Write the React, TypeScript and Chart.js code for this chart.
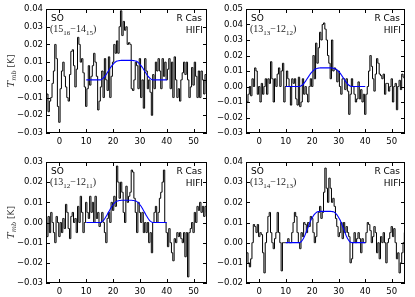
import React, { useEffect, useRef } from "react";
import { Chart, registerables } from "chart.js";

Chart.register(...registerables);
Chart.defaults.font.family = "'DejaVu Sans', sans-serif";

// ---------- data ----------
const CHANNEL_START = -5.5; // km/s, first channel centre
const CHANNEL_WIDTH = 0.5; // km/s

const velocityTicks = [0, 10, 20, 30, 40, 50];
const fitVelocities = [
  10, 10.5, 11, 11.5, 12, 12.5, 13, 13.5, 14, 14.5, 15, 15.5, 16, 16.5, 17, 17.5, 18, 18.5, 19, 19.5,
  20, 20.5, 21, 21.5, 22, 22.5, 23, 23.5, 24, 24.5, 25, 25.5, 26, 26.5, 27, 27.5, 28, 28.5, 29, 29.5,
  30, 30.5, 31, 31.5, 32, 32.5, 33, 33.5, 34, 34.5, 35, 35.5, 36, 36.5, 37, 37.5, 38, 38.5, 39, 39.5, 40,
];

// SO (15_16-14_15)
const spec1516 = [
  -0.008, -0.012, -0.008, -0.018, -0.012, -0.010, -0.002, 0.005, 0.020, 0.012,
  -0.015, -0.024, -0.005, 0.005, 0.010, 0.002, -0.004, -0.010, -0.012, 0.003,
  0.016, 0.017, 0.008, -0.004, 0.006, 0.024, 0.020, 0.010, 0.012, 0.004,
  -0.004, -0.015, -0.005, 0.008, -0.003, 0.002, 0.008, 0.015, 0.010, 0.002,
  -0.017, -0.012, -0.004, 0.005, -0.010, 0.012, 0.000, -0.006, 0.013, -0.010,
  0.002, 0.010, 0.020, 0.015, 0.022, 0.015, 0.030, 0.039, 0.025, 0.033,
  0.028, 0.030, 0.020, 0.021, 0.020, -0.005, -0.006, 0.000, 0.010, 0.008,
  -0.005, 0.012, -0.010, 0.000, -0.016, 0.012, 0.005, -0.005, 0.000, -0.007,
  -0.020, 0.003, -0.005, 0.010, 0.005, 0.012, 0.005, -0.005, 0.012, 0.002,
  0.010, 0.000, 0.006, 0.012, -0.005, 0.010, -0.010, 0.013, 0.000, -0.010,
  -0.005, -0.012, 0.000, 0.004, 0.010, 0.003, 0.010, 0.000, -0.010, -0.004,
  0.007, -0.003, 0.010, 0.002, -0.010, 0.005, -0.010, 0.005, 0.000, -0.008,
  0.003, -0.002,
];
// SO (13_13-12_12)
const spec1313 = [
  -0.012, -0.015, -0.010, -0.005, 0.000, -0.006, 0.005, 0.000, 0.012, 0.010,
  -0.005, 0.000, -0.010, 0.002, -0.005, 0.000, 0.005, -0.005, 0.005, 0.002,
  0.016, 0.005, -0.010, 0.005, 0.000, 0.008, 0.012, 0.000, 0.010, 0.015,
  -0.010, 0.000, 0.010, 0.005, 0.000, -0.012, 0.005, 0.002, 0.005, -0.008,
  -0.012, 0.006, -0.013, -0.010, 0.005, -0.005, 0.000, -0.005, -0.010, 0.000,
  0.005, 0.000, 0.020, 0.005, 0.028, 0.015, 0.025, 0.035, 0.030, 0.040,
  0.041, 0.037, 0.030, 0.020, 0.015, 0.005, 0.030, 0.010, 0.012, 0.011,
  0.003, 0.010, 0.000, -0.005, 0.005, 0.005, -0.002, 0.005, -0.003, -0.018,
  -0.005, 0.005, 0.000, -0.005, -0.010, -0.008, 0.003, -0.008, -0.002, -0.010,
  -0.005, -0.018, -0.005, 0.000, 0.010, 0.020, 0.013, 0.005, -0.003, 0.008,
  0.018, 0.015, 0.008, 0.007, 0.005, 0.008, -0.005, 0.002, 0.002, -0.003,
  0.000, 0.005, -0.010, 0.000, 0.002, -0.015, 0.000, 0.004, -0.002, 0.008,
  0.006, 0.005,
];
// SO (13_12-12_11)
const spec1312 = [
  -0.005, 0.000, -0.007, 0.003, -0.005, 0.005, 0.000, -0.005, -0.010, 0.003,
  0.000, -0.007, 0.000, -0.005, 0.002, -0.003, 0.009, 0.005, -0.003, -0.008,
  0.003, 0.005, 0.000, 0.002, -0.005, 0.008, 0.000, 0.013, 0.005, -0.005,
  0.000, 0.010, 0.005, 0.002, 0.013, 0.005, 0.010, 0.000, 0.013, 0.002,
  0.005, -0.002, 0.000, 0.005, 0.000, -0.005, -0.010, 0.002, 0.005, 0.000,
  0.010, 0.006, 0.013, 0.008, 0.028, 0.020, 0.012, 0.020, 0.015, 0.005,
  0.000, 0.018, 0.010, 0.013, 0.015, 0.026, 0.025, 0.012, 0.005, -0.005,
  0.010, 0.005, 0.000, 0.005, -0.005, 0.000, -0.005, 0.000, -0.010, -0.005,
  -0.015, 0.000, 0.005, 0.008, 0.000, 0.005, 0.012, 0.015, 0.020, 0.026,
  0.000, -0.005, -0.012, -0.003, -0.010, -0.015, -0.019, -0.008, -0.010, -0.005,
  -0.007, -0.005, -0.008, -0.010, -0.005, -0.017, -0.005, -0.027, -0.005, -0.003,
  0.000, -0.005, 0.005, 0.000, 0.008, 0.006, 0.010, 0.005, 0.008, 0.003,
  0.008, 0.005,
];
// SO (13_14-12_13)
const spec1314 = [
  -0.004, -0.005, -0.005, -0.010, -0.012, -0.008, 0.000, 0.009, 0.008, 0.005,
  0.009, 0.003, 0.005, 0.004, -0.005, -0.015, 0.000, 0.005, 0.013, 0.015,
  0.005, 0.000, -0.003, 0.002, 0.005, 0.015, 0.005, 0.000, -0.014, 0.000,
  0.000, 0.000, 0.000, 0.002, 0.000, 0.000, 0.005, 0.010, 0.015, 0.013,
  0.005, 0.000, -0.003, 0.005, 0.003, 0.010, 0.009, 0.005, 0.010, 0.008,
  0.013, 0.012, 0.005, 0.000, 0.003, 0.010, 0.015, 0.018, 0.012, 0.015,
  0.025, 0.037, 0.027, 0.020, 0.032, 0.027, 0.020, 0.022, 0.018, 0.012,
  0.008, 0.003, 0.005, 0.010, 0.002, 0.010, 0.005, 0.008, 0.005, 0.003,
  -0.010, -0.008, 0.000, 0.005, 0.000, 0.002, 0.005, 0.002, -0.005, 0.002,
  0.000, 0.000, 0.005, 0.010, 0.009, 0.006, 0.000, 0.003, 0.008, 0.005,
  -0.005, 0.000, -0.008, 0.003, 0.000, 0.005, 0.000, -0.010, 0.000, 0.002,
  0.005, 0.008, 0.003, 0.007, 0.000, -0.008, -0.005, -0.015, -0.010, -0.005,
  0.000, 0.005,
];

// model fits (blue), sampled at fitVelocities
const fit1516 = [
  0, 0, 0, 0, 0, 0, 0, 0, 0, 0, 0,
  0.00011, 0.00055, 0.0012, 0.0021, 0.0032, 0.0044, 0.0056, 0.0068, 0.0079, 0.0088, 0.0096, 0.0102, 0.0106, 0.0108, 0.0109,
  0.011, 0.011, 0.011, 0.011, 0.011, 0.011, 0.011, 0.011, 0.011,
  0.0109, 0.0108, 0.0106, 0.0102, 0.0096, 0.0088, 0.0079, 0.0068, 0.0056, 0.0044, 0.0032, 0.0021, 0.0012, 0.00055, 0.00011,
  0, 0, 0, 0, 0, 0, 0, 0, 0, 0, 0,
];
const fit1313 = [
  0, 0, 0, 0, 0, 0, 0, 0, 0, 0, 0,
  0.00012, 0.0006, 0.0013, 0.0023, 0.0035, 0.0048, 0.0061, 0.0074, 0.0086, 0.0096, 0.0104, 0.0111, 0.0115, 0.0118, 0.0119,
  0.012, 0.012, 0.012, 0.012, 0.012, 0.012, 0.012, 0.012, 0.012,
  0.0119, 0.0118, 0.0115, 0.0111, 0.0104, 0.0096, 0.0086, 0.0074, 0.0061, 0.0048, 0.0035, 0.0023, 0.0013, 0.0006, 0.00012,
  0, 0, 0, 0, 0, 0, 0, 0, 0, 0, 0,
];
const fit1312 = [
  0, 0, 0, 0, 0, 0, 0, 0, 0, 0, 0,
  0.00011, 0.00055, 0.0012, 0.0021, 0.0032, 0.0044, 0.0056, 0.0068, 0.0079, 0.0088, 0.0096, 0.0102, 0.0106, 0.0108, 0.0109,
  0.011, 0.011, 0.011, 0.011, 0.011, 0.011, 0.011, 0.011, 0.011,
  0.0109, 0.0108, 0.0106, 0.0102, 0.0096, 0.0088, 0.0079, 0.0068, 0.0056, 0.0044, 0.0032, 0.0021, 0.0012, 0.00055, 0.00011,
  0, 0, 0, 0, 0, 0, 0, 0, 0, 0, 0,
];
const fit1314 = [
  0, 0, 0, 0, 0, 0, 0, 0, 0, 0, 0,
  0.00016, 0.0008, 0.0017, 0.0029, 0.0045, 0.0062, 0.0079, 0.0096, 0.0112, 0.0124, 0.0135, 0.0143, 0.0149, 0.0153, 0.0154,
  0.0155, 0.0155, 0.0155, 0.0155, 0.0155, 0.0155, 0.0155, 0.0155, 0.0155,
  0.0154, 0.0153, 0.0149, 0.0143, 0.0135, 0.0124, 0.0112, 0.0096, 0.0079, 0.0062, 0.0045, 0.0029, 0.0017, 0.0008, 0.00016,
  0, 0, 0, 0, 0, 0, 0, 0, 0, 0, 0,
];

const yTicks1516 = [-0.03, -0.02, -0.01, 0, 0.01, 0.02, 0.03, 0.04];
const yTicks1313 = [-0.03, -0.02, -0.01, 0, 0.01, 0.02, 0.03, 0.04, 0.05];
const yTicks1312 = [-0.03, -0.02, -0.01, 0, 0.01, 0.02, 0.03];
const yTicks1314 = [-0.02, -0.01, 0, 0.01, 0.02, 0.03, 0.04];

const label1516 = ["15", "16", "14", "15"];
const label1313 = ["13", "13", "12", "12"];
const label1312 = ["13", "12", "12", "11"];
const label1314 = ["13", "14", "12", "13"];

// ---------- layout ----------
const W = 415;
const H = 297;
const Y_AXIS_W = 46;
const X_AXIS_H = 14;

type Box = { left: number; top: number; right: number; bottom: number };
type PanelDef = {
  spectrum: number[];
  fit: number[];
  yTicks: number[];
  label: string[];
  box: Box;
  yTitle: boolean;
};

const panels: PanelDef[] = [
  { spectrum: spec1516, fit: fit1516, yTicks: yTicks1516, label: label1516, box: { left: 46, top: 9, right: 207, bottom: 133 }, yTitle: true },
  { spectrum: spec1313, fit: fit1313, yTicks: yTicks1313, label: label1313, box: { left: 246, top: 9, right: 405, bottom: 133 }, yTitle: false },
  { spectrum: spec1312, fit: fit1312, yTicks: yTicks1312, label: label1312, box: { left: 46, top: 162, right: 207, bottom: 283 }, yTitle: true },
  { spectrum: spec1314, fit: fit1314, yTicks: yTicks1314, label: label1314, box: { left: 246, top: 162, right: 405, bottom: 283 }, yTitle: false },
];

function fmtY(v: number): string {
  if (Math.abs(v) < 1e-9) return "0.00";
  const s = Math.abs(v).toFixed(2);
  return v < 0 ? "\u2212" + s : s;
}

function makeDecor(def: PanelDef) {
  return {
    id: "decor",
    afterDraw(chart: any) {
      const { ctx, chartArea: a, scales } = chart;
      ctx.save();
      // frame
      ctx.strokeStyle = "#000";
      ctx.lineWidth = 1;
      ctx.strokeRect(a.left + 0.5, a.top + 0.5, a.right - a.left - 1, a.bottom - a.top - 1);
      // inward ticks
      ctx.beginPath();
      const tl = 4;
      for (const v of velocityTicks) {
        const px = Math.round(scales.x.getPixelForValue(v)) + 0.5;
        ctx.moveTo(px, a.bottom);
        ctx.lineTo(px, a.bottom - tl);
        ctx.moveTo(px, a.top);
        ctx.lineTo(px, a.top + tl);
      }
      for (const v of def.yTicks) {
        const py = Math.round(scales.y.getPixelForValue(v)) + 0.5;
        ctx.moveTo(a.left, py);
        ctx.lineTo(a.left + tl, py);
        ctx.moveTo(a.right, py);
        ctx.lineTo(a.right - tl, py);
      }
      ctx.stroke();

      // annotations
      ctx.fillStyle = "#000";
      ctx.textBaseline = "alphabetic";
      ctx.font = "9px 'DejaVu Sans', sans-serif";
      ctx.textAlign = "left";
      ctx.fillText("SO", a.left + 5, a.top + 12);
      ctx.textAlign = "right";
      ctx.fillText("R Cas", a.right - 5, a.top + 12);
      ctx.fillText("HIFI", a.right - 4, a.top + 24);

      // transition label (N_J - N'_J')
      ctx.textAlign = "left";
      ctx.fillStyle = "#222";
      const main = "10px 'Liberation Serif', serif";
      const sub = "7px 'Liberation Serif', serif";
      const [n1, j1, n2, j2] = def.label;
      const pieces: [string, string, number][] = [
        ["(" + n1, main, 0],
        [j1, sub, 2.5],
        ["\u2212" + n2, main, 0],
        [j2, sub, 2.5],
        [")", main, 0],
      ];
      let x = a.left + 4;
      const by = a.top + 23;
      for (const [t, f, dy] of pieces) {
        ctx.font = f;
        ctx.fillText(t, x, by + dy);
        x += ctx.measureText(t).width;
      }

      // y title
      if (def.yTitle) {
        ctx.fillStyle = "#333";
        const cy = (a.top + a.bottom) / 2;
        ctx.translate(14, cy);
        ctx.rotate(-Math.PI / 2);
        const tp: [string, string, number][] = [
          ["T", "italic 10px 'DejaVu Serif', serif", 0],
          ["mb", "italic 6.5px 'DejaVu Serif', serif", 2],
          [" [K]", "9px 'DejaVu Sans', sans-serif", 0],
        ];
        let total = 0;
        for (const [t, f] of tp) {
          ctx.font = f;
          total += ctx.measureText(t).width;
        }
        let tx = -total / 2;
        for (const [t, f, dy] of tp) {
          ctx.font = f;
          ctx.fillText(t, tx, dy);
          tx += ctx.measureText(t).width;
        }
      }
      ctx.restore();
    },
  };
}

function Panel({ def }: { def: PanelDef }) {
  const ref = useRef<HTMLCanvasElement>(null);
  useEffect(() => {
    const canvas = ref.current!;
    const b = def.box;
    const chart = new Chart(canvas, {
      type: "line",
      data: {
        datasets: [
          {
            data: def.fit.map((y, i) => ({ x: fitVelocities[i], y })),
            borderColor: "#0000ff",
            borderWidth: 1.1,
            pointRadius: 0,
            cubicInterpolationMode: "monotone",
            fill: false,
          },
          {
            data: def.spectrum.map((y, i) => ({ x: CHANNEL_START + i * CHANNEL_WIDTH, y })),
            borderColor: "#000",
            borderWidth: 1,
            pointRadius: 0,
            stepped: "middle",
            fill: false,
          },
        ],
      },
      options: {
        responsive: false,
        animation: false,
        events: [],
        layout: {
          padding: {
            left: b.left - Y_AXIS_W,
            top: b.top,
            right: W - b.right,
            bottom: H - b.bottom - X_AXIS_H,
          },
        },
        plugins: { legend: { display: false }, tooltip: { enabled: false } },
        scales: {
          x: {
            type: "linear",
            min: -5,
            max: 55,
            grid: { display: false, drawTicks: false },
            border: { display: false },
            ticks: { color: "#000", font: { size: 8.5 }, padding: 4, maxRotation: 0, autoSkip: false },
            afterBuildTicks: (s: any) => {
              s.ticks = velocityTicks.map((v) => ({ value: v }));
            },
            afterFit: (s: any) => {
              s.height = X_AXIS_H;
            },
          },
          y: {
            type: "linear",
            min: def.yTicks[0],
            max: def.yTicks[def.yTicks.length - 1],
            grid: { display: false, drawTicks: false },
            border: { display: false },
            ticks: { color: "#000", font: { size: 8.5 }, padding: 3, callback: (v: any) => fmtY(Number(v)) },
            afterBuildTicks: (s: any) => {
              s.ticks = def.yTicks.map((v) => ({ value: v }));
            },
            afterFit: (s: any) => {
              s.width = Y_AXIS_W;
            },
          },
        },
      } as any,
      plugins: [makeDecor(def)],
    });
    return () => chart.destroy();
  }, [def]);
  return (
    <canvas
      ref={ref}
      width={W}
      height={H}
      style={{ position: "absolute", left: 0, top: 0, width: W, height: H }}
    />
  );
}

export default function App() {
  return (
    <div style={{ position: "fixed", left: 0, top: 0, width: W, height: H, background: "#fff" }}>
      {panels.map((p, i) => (
        <Panel key={i} def={p} />
      ))}
    </div>
  );
}
